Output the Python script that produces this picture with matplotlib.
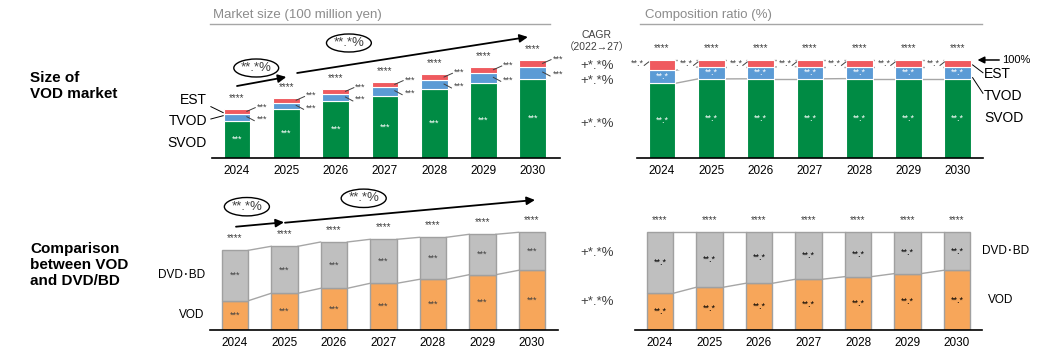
import numpy as np
import matplotlib
matplotlib.use('Agg')
import matplotlib.pyplot as plt
from matplotlib.patches import Ellipse
from matplotlib.lines import Line2D

plt.rcParams['font.family'] = ['Liberation Sans', 'Noto Sans CJK JP', 'DejaVu Sans']

years = ['2024', '2025', '2026', '2027', '2028', '2029', '2030']

# market size (values hidden in the source)
svod = [3730, 4870, 5670, 6230, 6870, 7470, 7930]
tvod = [670, 660, 730, 870, 930, 1060, 1200]
est = [530, 500, 530, 530, 600, 600, 670]

# composition ratio (%)
svod_pct = [76.2, 80.7, 80.8, 80.8, 81.0, 81.0, 81.0]
tvod_pct = [13.3, 12.2, 12.1, 12.4, 12.2, 12.2, 12.2]
est_pct = [10.5, 7.1, 7.1, 6.8, 6.8, 6.8, 6.8]

# VOD vs DVD/BD
vod = [2930, 3670, 4170, 4670, 5070, 5530, 5970]
dvd = [5040, 4700, 4630, 4400, 4200, 4040, 3800]
vod_pct = [37.6, 43.7, 47.8, 51.9, 54.6, 57.7, 61.1]
dvd_pct = [62.4, 56.3, 52.2, 48.1, 45.4, 42.3, 38.9]

GREEN = '#008B44'
BLUE = '#5B9BD5'
RED = '#EF5A5F'
GRAY = '#BFBFBF'
ORANGE = '#F7A65A'
LINE = '#A6A6A6'
DARK = '#404040'

W, H = 1040, 353
fig = plt.figure(figsize=(W / 100, H / 100), dpi=100)


def fpx(x, y):
    return x / W, 1 - y / H


def make_ax(left, right, bottom, top, c0, sp, ymax):
    ax = fig.add_axes([left / W, 1 - bottom / H, (right - left) / W, (bottom - top) / H])
    ax.set_xlim((left - c0) / sp, (right - c0) / sp)
    ax.set_ylim(0, ymax)
    for s in ['top', 'left', 'right']:
        ax.spines[s].set_visible(False)
    ax.spines['bottom'].set_color('black')
    ax.spines['bottom'].set_linewidth(1.2)
    ax.set_yticks([])
    ax.set_xticks(np.arange(len(years)), years)
    ax.tick_params(axis='x', length=0, pad=5, labelsize=8.5)
    ax.patch.set_alpha(0)
    return ax


def connect(ax, tops, bw, **kw):
    for i in range(len(tops) - 1):
        ax.plot([i + bw / 2, i + 1 - bw / 2], [tops[i], tops[i + 1]], color=LINE, lw=1, zorder=1, **kw)


def growth_arrows(ax, p_small, p_long, e1, e2, ew, eh):
    ax.annotate('', xy=p_small[1], xytext=p_small[0], annotation_clip=False,
                arrowprops=dict(arrowstyle='-|>', color='black', lw=1.3, mutation_scale=12, shrinkA=0, shrinkB=0))
    ax.annotate('', xy=p_long[1], xytext=p_long[0], annotation_clip=False,
                arrowprops=dict(arrowstyle='-|>', color='black', lw=1.3, mutation_scale=12, shrinkA=0, shrinkB=0))
    for c in (e1, e2):
        ax.add_patch(Ellipse(c, ew, eh, facecolor='white', edgecolor='black', lw=1, clip_on=False))
        ax.text(c[0], c[1], '**.*%', ha='center', va='center', fontsize=9.5, color=DARK)


x = np.arange(len(years))
bw = 0.54

# ---------------- top left: market size ----------------
ax1 = make_ax(212, 560, 158, 20, 237, 49.3, 13800)
s = np.array(svod); t = np.array(tvod); e = np.array(est)
ax1.bar(x, s, bw, color=GREEN, edgecolor='white', lw=0.8)
ax1.bar(x, t, bw, bottom=s, color=BLUE, edgecolor='white', lw=0.8)
ax1.bar(x, e, bw, bottom=s + t, color=RED, edgecolor='white', lw=0.8)
tot = s + t + e
for i in x:
    ax1.text(i, tot[i] + 1100, '****', ha='center', va='center', fontsize=7, color=DARK)
    ax1.text(i, s[i] / 2, '***', ha='center', va='center', fontsize=6.5, color='white')
    em = s[i] + t[i] + e[i] / 2
    tm = s[i] + t[i] / 2
    ax1.plot([i + 0.2, i + 0.37], [em, em + 370], color=DARK, lw=0.7, clip_on=False)
    ax1.text(i + 0.4, em + 450, '***', ha='left', va='center', fontsize=6.5, color=DARK)
    ax1.plot([i + 0.2, i + 0.35], [tm + 60, tm - 330], color=DARK, lw=0.7, clip_on=False)
    ax1.text(i + 0.4, tm - 200, '***', ha='left', va='center', fontsize=6.5, color=DARK)

em0 = s[0] + t[0] + e[0] / 2
tm0 = s[0] + t[0] / 2
ax1.text(-0.61, 5800, 'EST', ha='right', va='center', fontsize=10)
ax1.text(-0.61, 3700, 'TVOD', ha='right', va='center', fontsize=10)
ax1.text(-0.61, 1530, 'SVOD', ha='right', va='center', fontsize=10)
ax1.plot([-0.53, -0.28], [em0 + 470, em0 - 130], color='black', lw=0.7, clip_on=False)
ax1.plot([-0.53, -0.28], [tm0 - 165, tm0 + 165], color='black', lw=0.7, clip_on=False)
growth_arrows(ax1, [(0.0, 7200), (1.0, 8100)], [(1.22, 8500), (5.9, 12100)],
              (0.39, 9000), (2.27, 11500), 0.91, 1800)

# ---------------- top right: composition ----------------
ax2 = make_ax(637, 983, 158, 20, 662, 49.3, 140.8)
sp = np.array(svod_pct); tp = np.array(tvod_pct); ep = np.array(est_pct)
ax2.bar(x, sp, bw, color=GREEN, edgecolor='white', lw=0.8, zorder=2)
ax2.bar(x, tp, bw, bottom=sp, color=BLUE, edgecolor='white', lw=0.8, zorder=2)
ax2.bar(x, ep, bw, bottom=sp + tp, color=RED, edgecolor='white', lw=0.8, zorder=2)
connect(ax2, sp, bw)
connect(ax2, sp + tp, bw, ls=(0, (3, 2)))
connect(ax2, sp + tp + ep, bw, ls=(0, (3, 2)))
for i in x:
    ax2.text(i, 112, '****', ha='center', va='center', fontsize=7, color=DARK)
    ax2.text(i, sp[i] / 2, '**.*', ha='center', va='center', fontsize=6.5, color='white')
    ax2.text(i, sp[i] + tp[i] / 2, '**.*', ha='center', va='center', fontsize=6.5, color='white')
    ax2.text(i - 0.5, 96, '**.*', ha='center', va='center', fontsize=6.5, color=DARK,
             bbox=dict(facecolor='white', edgecolor='none', pad=1.5), zorder=3)
    ax2.plot([i - 0.36, i - 0.27], [94.5, 98], color=DARK, lw=0.7, zorder=3)
ax2.plot([6.3, 6.51], [95, 87], color='black', lw=0.7, clip_on=False)
ax2.plot([6.3, 6.51], [82, 66], color='black', lw=0.7, clip_on=False)
ax2.text(6.53, 85.7, 'EST', ha='left', va='center', fontsize=10)
ax2.text(6.53, 63.3, 'TVOD', ha='left', va='center', fontsize=10)
ax2.text(6.53, 40.8, 'SVOD', ha='left', va='center', fontsize=10)
ax2.annotate('', xy=(6.4, 100), xytext=(6.84, 100), annotation_clip=False,
             arrowprops=dict(arrowstyle='-|>', color='black', lw=1.1, mutation_scale=10, shrinkA=0, shrinkB=0))
ax2.text(6.9, 100, '100%', ha='left', va='center', fontsize=8)

# ---------------- bottom left: VOD vs DVD/BD ----------------
ax3 = make_ax(210, 558, 330, 190, 235, 49.5, 14000)
v = np.array(vod); d = np.array(dvd)
ax3.bar(x, v, bw, color=ORANGE, edgecolor='#A0A0A0', lw=1, zorder=2)
ax3.bar(x, d, bw, bottom=v, color=GRAY, edgecolor='#A0A0A0', lw=1, zorder=2)
connect(ax3, v, bw)
connect(ax3, v + d, bw)
for i in x:
    ax3.text(i, v[i] + d[i] + 1200, '****', ha='center', va='center', fontsize=7, color=DARK)
    ax3.text(i, v[i] / 2, '***', ha='center', va='center', fontsize=6.5, color=DARK)
    ax3.text(i, v[i] + d[i] / 2, '***', ha='center', va='center', fontsize=6.5, color=DARK)
ax3.text(-0.61, 5500, 'DVD･BD', ha='right', va='center', fontsize=8.5)
ax3.text(-0.61, 1500, 'VOD', ha='right', va='center', fontsize=8.5)
growth_arrows(ax3, [(0.02, 10330), (0.99, 10770)], [(1.01, 10730), (6.06, 13000)],
              (0.24, 12330), (2.6, 13170), 0.91, 1840)

# ---------------- bottom right: VOD vs DVD/BD ratio ----------------
ax4 = make_ax(635, 982, 330, 190, 660, 49.5, 143.3)
vp = np.array(vod_pct); dp = np.array(dvd_pct)
ax4.bar(x, vp, bw, color=ORANGE, edgecolor='#A0A0A0', lw=1, zorder=2)
ax4.bar(x, dp, bw, bottom=vp, color=GRAY, edgecolor='#A0A0A0', lw=1, zorder=2)
connect(ax4, vp, bw)
connect(ax4, vp + dp, bw)
for i in x:
    ax4.text(i, 112.6, '****', ha='center', va='center', fontsize=7, color=DARK)
    ax4.text(i, vp[i] / 2, '**.*', ha='center', va='center', fontsize=6.5, color='black')
    ax4.text(i, vp[i] + dp[i] / 2, '**.*', ha='center', va='center', fontsize=6.5, color='black')
ax4.text(6.5, 81.2, 'DVD･BD', ha='left', va='center', fontsize=8.5)
ax4.text(6.63, 30.7, 'VOD', ha='left', va='center', fontsize=8.5)

# ---------------- headers, CAGR and row labels ----------------
fig.text(*fpx(213, 15), 'Market size (100 million yen)', fontsize=9.5, color='#8C8C8C', va='center')
fig.text(*fpx(645, 15), 'Composition ratio (%)', fontsize=9.5, color='#8C8C8C', va='center')
for x0, x1 in [(210, 550), (640, 982)]:
    fig.add_artist(Line2D([x0 / W, x1 / W], [1 - 24 / H] * 2, color=LINE, lw=1))

fig.text(*fpx(597, 35), 'CAGR', fontsize=7.5, ha='center', va='center', color=DARK)
fig.text(*fpx(597, 47), '（2022→27）', fontsize=7.5, ha='center', va='center', color=DARK)
for yy in [66, 81, 124, 253, 302]:
    fig.text(*fpx(597, yy), '+*.*%', fontsize=9.5, ha='center', va='center', color=DARK)

fig.text(*fpx(30, 86), 'Size of\nVOD market', fontsize=11, fontweight='bold', va='center', linespacing=1.2)
fig.text(*fpx(30, 265), 'Comparison\nbetween VOD\nand DVD/BD', fontsize=11, fontweight='bold',
         va='center', linespacing=1.2)

fig.savefig('out.png', dpi=100)
